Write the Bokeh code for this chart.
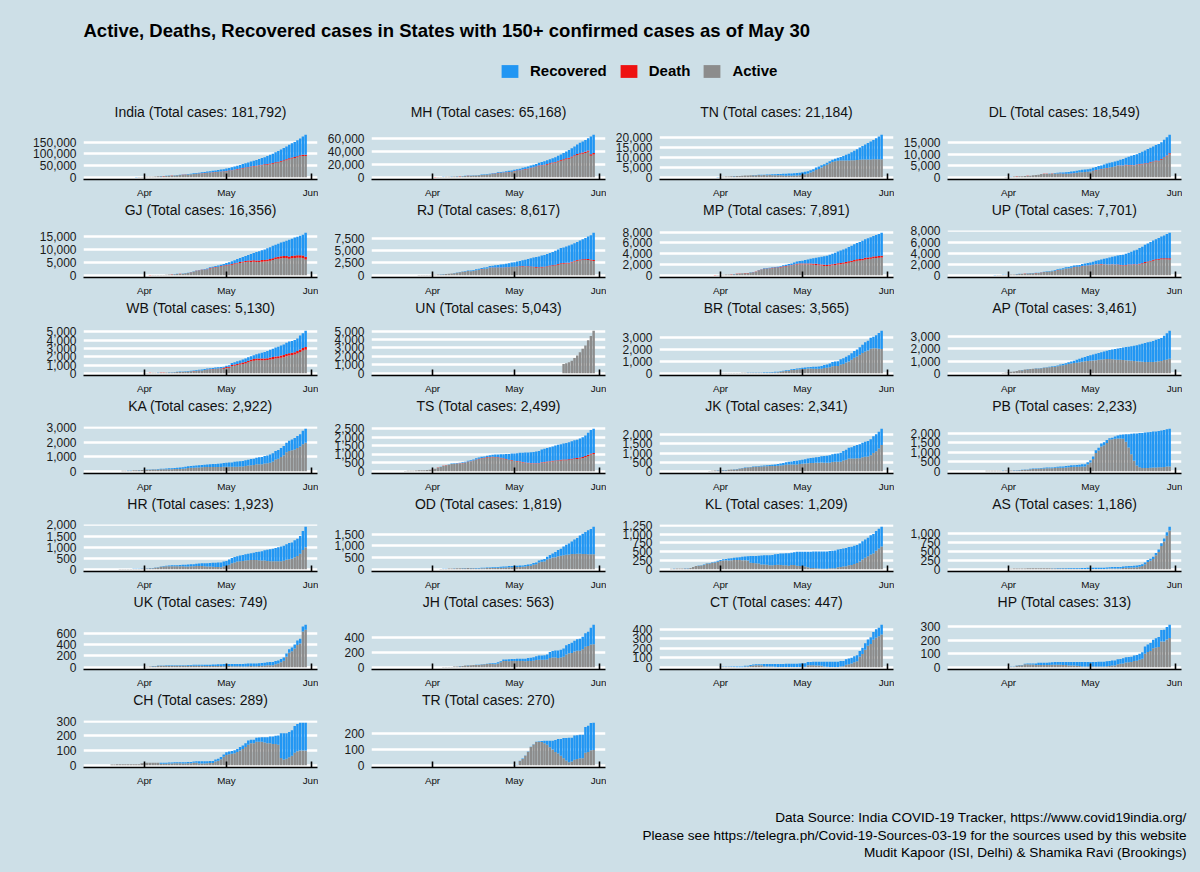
import numpy as np
import pandas as pd
from bokeh.plotting import figure
from bokeh.layouts import column, row
from bokeh.models import (Range1d, FixedTicker, NumeralTickFormatter, DatetimeTickFormatter,
                          Legend, LegendItem, Label, Spacer, ColumnDataSource)
from bokeh.embed import file_html
from bokeh.resources import INLINE

BG = "#cddfe7"
C_REC = "#2196f3"
C_DEATH = "#ee1111"
C_ACT = "#8c8c8c"
FONT = "Liberation Sans"

FIRST_DAY = "2020-03-14"
LAST_DAY = "2020-05-30"
MONTH_TICKS = ["2020-04-01", "2020-05-01", "2020-06-01"]
TITLE = "Active, Deaths, Recovered cases in States with 150+ confirmed cases as of May 30"
SERIES_LABELS = ["Recovered", "Death", "Active"]
CAPTION = ["Data Source: India COVID-19 Tracker, https://www.covid19india.org/",
           "Please see https://telegra.ph/Covid-19-Sources-03-19 for the sources used by this website",
           "Mudit Kapoor (ISI, Delhi) & Shamika Ravi (Brookings)"]

# Every list below holds daily values that END on May 30 (cumulative counts).
IN_TOTAL = [102, 112, 126, 146, 171, 198, 256, 334, 403, 499, 536, 657, 727, 887, 987, 1024, 1251, 1397,
            1998, 2543, 2567, 3082, 3588, 4778, 5311, 5916, 6725, 7598,
            8446, 9205, 10453, 11487, 12322, 13430, 14352, 15722, 17615, 18539,
            20080, 21370, 23077, 24530, 26283, 27890, 29451, 31324, 33062, 34863,
            37257, 39699, 42505, 46437, 49400, 52987, 56351, 59695, 62808, 67161,
            70768, 74292, 78055, 81997, 85784, 90648, 95698, 100328, 106475, 112028,
            118226, 124794, 131423, 138536, 144950, 150793, 158086, 165386, 173491, 181792]
IN_ACTIVE = [90, 97, 110, 129, 153, 174, 228, 306, 373, 455, 486, 602, 645, 792, 878, 902, 1119, 1239,
             1790, 2301, 2291, 2752, 3194, 4298, 4731, 5236, 5935, 6698,
             7376, 7905, 9053, 9787, 10412, 11230, 11842, 12732, 14195, 14679,
             15480, 16310, 17357, 18540, 19538, 20650, 21481, 22564, 23542, 24623,
             26017, 27569, 29335, 31967, 33530, 35867, 37661, 39825, 41338, 44021,
             45978, 47492, 49285, 51367, 52764, 53558, 55838, 57988, 60875, 63278,
             66086, 69244, 73113, 76796, 80080, 82173, 85806, 89576, 90721, 90607]
IN_DEATH = [2, 2, 2, 3, 3, 4, 5, 5, 7, 9, 10, 12, 16, 20, 24, 27, 32, 38,
            58, 72, 86, 100, 124, 150, 170, 200, 240, 250,
            290, 330, 360, 400, 420, 450, 490, 530, 560, 590,
            640, 690, 720, 780, 825, 880, 940, 1010, 1080, 1150,
            1220, 1320, 1390, 1570, 1690, 1790, 1890, 1990, 2110, 2210,
            2300, 2420, 2550, 2650, 2760, 2870, 3030, 3170, 3300, 3450,
            3590, 3720, 3870, 4020, 4170, 4340, 4530, 4710, 4970, 5185]

MH_TOTAL = [14, 32, 39, 41, 45, 48, 52, 64, 74, 97, 107, 122, 130, 153, 186, 203, 220, 302,
            335, 423, 490, 635, 748, 868, 1018, 1135, 1364, 1574,
            1761, 1982, 2334, 2684, 2916, 3202, 3323, 3648, 4200, 4666,
            5218, 5652, 6430, 6817, 7628, 8068, 8590, 9318, 9915, 10498,
            11506, 12296, 12974, 14541, 15525, 16758, 17974, 19063, 20228, 22171,
            23401, 24427, 25922, 27524, 29100, 30706, 33053, 35058, 37136, 39297,
            41642, 44582, 47190, 50231, 52667, 54758, 56948, 59546, 62228, 65168]
MH_ACTIVE = [14, 32, 39, 41, 45, 48, 52, 63, 72, 95, 104, 117, 124, 145, 174, 189, 199, 269,
             279, 361, 414, 551, 647, 750, 875, 946, 1142, 1276,
             1426, 1616, 1945, 2247, 2434, 2708, 2791, 3072, 3470, 3862,
             4245, 4594, 5307, 5559, 6229, 6538, 6939, 7530, 7890, 8266,
             9142, 9775, 10311, 11493, 12089, 13013, 13979, 14862, 15649, 17140,
             17747, 18381, 19400, 20446, 21468, 22483, 24167, 25372, 26172, 27589,
             28462, 30482, 32209, 33996, 35186, 36012, 37133, 38948, 33133, 34890]
MH_DEATH = [0, 0, 0, 1, 1, 1, 1, 1, 2, 2, 3, 4, 4, 5, 6, 8, 10, 10,
            16, 20, 26, 32, 45, 52, 64, 72, 97, 110,
            127, 149, 160, 178, 187, 194, 201, 211, 223, 232,
            251, 269, 283, 301, 323, 342, 369, 400, 432, 459,
            485, 521, 548, 583, 617, 651, 694, 731, 779, 832,
            868, 921, 975, 1019, 1068, 1135, 1198, 1249, 1325, 1390,
            1454, 1517, 1577, 1635, 1695, 1792, 1897, 1982, 2098, 2197]

TN_TOTAL = [15, 18, 26, 35, 40, 50, 67, 124,
            234, 309, 411, 485, 571, 621, 690, 738, 834, 911,
            969, 1075, 1173, 1204, 1242, 1267, 1323, 1372, 1477, 1520,
            1596, 1629, 1683, 1755, 1821, 1885, 1937, 2058, 2162, 2323,
            2526, 2757, 3023, 3550, 4058, 4829, 5409, 6009, 6535, 7204,
            8002, 8718, 9227, 9674, 10108, 10585, 11224, 11760, 12448, 13191,
            13967, 14753, 15512, 16277, 17082, 17728, 18545, 19372, 20246, 21184]
TN_ACTIVE = [14, 17, 24, 33, 38, 48, 65, 118,
             228, 303, 404, 477, 563, 610, 675, 720, 810, 870,
             920, 1010, 1090, 1100, 1110, 1100, 1110, 1100, 1120, 1050,
             1050, 1000, 990, 960, 850, 880, 850, 880, 900, 1050,
             1300, 1600, 1900, 2400, 2900, 3600, 4200, 4900, 5600, 6300,
             7000, 7600, 8000, 8200, 8300, 8400, 8300, 8400, 8500, 8500,
             8600, 8700, 8800, 8800, 8900, 8900, 9000, 9000, 9000, 9000]

DL_TOTAL = [17, 27, 29, 30, 31, 35, 36, 39, 40, 72, 97, 120,
            152, 219, 386, 445, 503, 523, 576, 669, 720, 903,
            1069, 1154, 1510, 1561, 1578, 1640, 1707, 1893, 2003, 2081,
            2156, 2248, 2376, 2514, 2625, 2918, 3108, 3314, 3439, 3515,
            3738, 4122, 4549, 4898, 5104, 5532, 5980, 6318, 6542, 6923,
            7233, 7639, 7998, 8470, 8895, 9333, 9755, 10054, 10554, 11088,
            11659, 12319, 12910, 13418, 14053, 14465, 15257, 16281, 17386, 18549]
DL_ACTIVE = [16, 26, 27, 28, 28, 30, 31, 34, 34, 66, 90, 112,
             144, 207, 372, 429, 478, 496, 547, 638, 685, 864,
             1023, 1103, 1452, 1501, 1514, 1564, 1593, 1643, 1668, 1603,
             1498, 1476, 1518, 1604, 1702, 1987, 2177, 2182, 2291, 2362,
             2510, 2802, 3123, 3403, 3572, 3925, 3983, 4230, 4449, 4781,
             5031, 5041, 5034, 5310, 5254, 5278, 5122, 5409, 5636, 5702,
             5898, 5897, 6412, 6617, 7006, 6954, 7690, 8470, 9142, 10058]
DL_DEATH = [1, 1, 1, 1, 1, 1, 1, 1, 2, 2, 2, 2,
            2, 4, 6, 6, 7, 8, 9, 10, 12, 14,
            19, 24, 28, 30, 32, 38, 42, 43, 45, 47,
            47, 48, 50, 53, 54, 54, 54, 54, 56, 59,
            61, 64, 64, 64, 64, 65, 66, 68, 73, 73,
            73, 86, 106, 115, 123, 129, 148, 160, 168, 194,
            194, 208, 231, 261, 276, 288, 303, 316, 398, 416]

GJ_TOTAL = [7, 13, 18, 29, 33, 38, 43, 47, 55, 58, 69, 74,
            82, 87, 95, 105, 144, 146, 175, 186, 241, 378,
            432, 516, 572, 650, 695, 871, 1021, 1272, 1604, 1851,
            2066, 2272, 2407, 2624, 3071, 3301, 3548, 3774, 4082, 4395,
            4721, 5054, 5428, 5804, 6245, 6625, 7013, 7402, 7796, 8194,
            8542, 8903, 9267, 9592, 9932, 10382, 10766, 11379, 11746, 12140,
            12539, 12910, 13268, 13664, 14063, 14468, 14829, 15205, 15572, 16356]
GJ_ACTIVE = [7, 12, 17, 28, 31, 35, 40, 43, 51, 53, 60, 63,
             75, 79, 86, 94, 129, 129, 149, 153, 200, 328,
             373, 450, 499, 563, 601, 771, 905, 1136, 1452, 1678,
             1856, 2038, 2125, 2254, 2662, 2855, 3003, 3178, 3374, 3568,
             3750, 3896, 4096, 4290, 4496, 4729, 4879, 5081, 5233, 5156,
             5249, 5120, 5139, 5253, 5291, 5449, 5608, 5881, 6223, 6348,
             6547, 6620, 6559, 6394, 6539, 6653, 6752, 6696, 6638, 6119]
GJ_DEATH = [0, 1, 1, 1, 2, 3, 3, 4, 4, 5, 6, 6,
            6, 7, 8, 10, 12, 12, 14, 16, 16, 17,
            19, 22, 26, 28, 30, 36, 42, 48, 58, 67,
            79, 90, 103, 112, 127, 133, 151, 162, 181, 214,
            236, 262, 290, 319, 368, 396, 425, 449, 472, 493,
            513, 537, 566, 586, 606, 625, 659, 694, 719, 749,
            773, 802, 829, 858, 888, 915, 938, 960, 980, 1007]

RJ_TOTAL = [17, 23, 28, 33, 36, 38, 41, 54, 55, 59, 74, 93,
            108, 133, 167, 210, 253, 288, 343, 381, 463, 561,
            700, 804, 873, 969, 1005, 1101, 1229, 1351, 1478, 1576,
            1659, 1890, 1964, 2034, 2083, 2185, 2262, 2364, 2438, 2584,
            2666, 2772, 2886, 3061, 3158, 3317, 3427, 3579, 3708, 3814,
            3988, 4126, 4328, 4534, 4727, 4960, 5202, 5507, 5629, 5845,
            6015, 6227, 6494, 6742, 7028, 7300, 7536, 7816, 8067, 8617]
RJ_ACTIVE = [14, 20, 25, 30, 33, 35, 38, 50, 51, 55, 70, 88,
             100, 123, 155, 196, 229, 264, 317, 352, 425, 510,
             640, 730, 780, 860, 850, 920, 1020, 1120, 1240, 1320,
             1380, 1560, 1560, 1560, 1530, 1560, 1560, 1580, 1600, 1680,
             1700, 1730, 1750, 1800, 1770, 1740, 1700, 1640, 1560, 1540,
             1600, 1620, 1720, 1850, 1900, 2000, 2150, 2300, 2350, 2380,
             2400, 2600, 2800, 2950, 3050, 3100, 3150, 3100, 3000, 2900]
RJ_DEATH = [0, 0, 0, 0, 0, 0, 0, 0, 0, 0, 0, 0,
            1, 1, 1, 1, 1, 2, 3, 3, 3, 3,
            3, 3, 3, 3, 3, 5, 11, 19, 21, 25,
            25, 27, 27, 27, 31, 33, 46, 48, 51, 58,
            62, 65, 71, 77, 82, 89, 97, 100, 103, 107,
            113, 117, 121, 125, 128, 131, 135, 138, 140, 143,
            147, 151, 153, 163, 167, 170, 173, 180, 184, 193]

MP_TOTAL = [4, 4, 6, 7, 14, 20, 30, 39, 39, 47, 66,
            86, 99, 154, 165, 193, 229, 290, 329, 411, 435,
            451, 564, 604, 730, 987, 1120, 1299, 1355, 1407, 1485,
            1552, 1587, 1695, 1846, 1945, 2096, 2168, 2387, 2561, 2660,
            2719, 2846, 2942, 3049, 3138, 3252, 3341, 3457, 3540, 3614,
            3785, 3986, 4173, 4426, 4595, 4790, 4977, 5236, 5465, 5735,
            5981, 6170, 6371, 6665, 6859, 7024, 7261, 7453, 7645, 7891]
MP_ACTIVE = [4, 4, 6, 7, 14, 18, 28, 37, 37, 44, 60,
             80, 93, 146, 155, 180, 212, 270, 305, 380, 400,
             410, 510, 545, 660, 900, 1020, 1180, 1220, 1250, 1310,
             1350, 1380, 1470, 1580, 1640, 1730, 1760, 1900, 2000, 2040,
             2030, 2050, 2030, 2010, 1950, 1930, 1870, 1800, 1750, 1720,
             1780, 1850, 1900, 2020, 2050, 2130, 2200, 2350, 2450, 2580,
             2700, 2750, 2800, 2950, 3000, 3050, 3150, 3200, 3250, 3280]
MP_DEATH = [0, 0, 0, 0, 0, 1, 1, 2, 2, 3, 5,
            6, 6, 6, 8, 9, 13, 17, 20, 25, 28,
            30, 36, 45, 50, 53, 57, 64, 70, 72, 76,
            80, 80, 83, 88, 99, 103, 110, 120, 130, 137,
            145, 151, 156, 165, 185, 193, 200, 205, 210, 215,
            221, 225, 232, 237, 239, 243, 248, 252, 258, 265,
            272, 281, 290, 300, 306, 313, 321, 334, 338, 343]

UP_TOTAL = [23, 24, 27, 31, 33, 38, 41, 44, 55, 72, 96, 103,
            113, 172, 174, 227, 278, 305, 343, 361, 410, 433,
            452, 483, 558, 660, 735, 805, 846, 969, 1084, 1184,
            1294, 1449, 1510, 1621, 1778, 1843, 1873, 2053, 2134, 2211,
            2328, 2455, 2645, 2742, 2880, 2998, 3071, 3214, 3373, 3467,
            3573, 3664, 3729, 3902, 4057, 4258, 4464, 4605, 4926, 5175,
            5515, 5735, 6017, 6268, 6497, 6724, 6991, 7170, 7445, 7701]
UP_ACTIVE = [14, 15, 18, 22, 22, 27, 30, 33, 44, 59, 80, 86,
             95, 152, 152, 203, 251, 275, 311, 330, 375, 390,
             400, 430, 490, 585, 650, 700, 740, 840, 930, 1010,
             1090, 1230, 1270, 1350, 1480, 1520, 1520, 1640, 1680, 1720,
             1780, 1850, 1950, 1950, 1970, 1960, 1900, 1900, 1950, 1900,
             1860, 1800, 1750, 1800, 1850, 1850, 1900, 1850, 1950, 2050,
             2250, 2350, 2500, 2650, 2750, 2800, 2900, 2900, 2900, 2850]
UP_DEATH = [0, 0, 0, 0, 0, 0, 0, 0, 0, 0, 0, 0,
            2, 2, 2, 2, 3, 3, 3, 4, 4, 5,
            5, 5, 6, 8, 11, 13, 14, 14, 17, 18,
            20, 21, 24, 25, 27, 29, 31, 32, 39, 40,
            43, 45, 46, 50, 56, 60, 62, 66, 68, 74,
            80, 82, 83, 88, 95, 104, 112, 118, 123, 127,
            138, 144, 155, 161, 169, 176, 182, 185, 198, 213]

WB_TOTAL = [4, 7, 9, 9, 10, 15, 17, 19, 22, 27,
            37, 53, 63, 69, 80, 91, 99, 103, 116, 126,
            134, 152, 190, 213, 231, 255, 287, 310, 339, 392,
            423, 456, 514, 571, 611, 649, 697, 725, 758, 795,
            922, 963, 1259, 1344, 1456, 1548, 1678, 1786, 1939, 2063,
            2173, 2290, 2377, 2461, 2576, 2677, 2825, 2961, 3103, 3197,
            3332, 3459, 3667, 3816, 3900, 4009, 4192, 4536, 4813, 5130]
WB_ACTIVE = [3, 6, 8, 8, 8, 13, 15, 16, 19, 23,
             33, 46, 55, 60, 70, 80, 85, 87, 95, 100,
             110, 120, 150, 170, 180, 200, 220, 240, 260, 300,
             320, 340, 390, 440, 470, 500, 530, 550, 570, 560,
             650, 670, 880, 920, 990, 1050, 1130, 1180, 1340, 1460,
             1520, 1580, 1580, 1560, 1560, 1590, 1660, 1700, 1770, 1800,
             1870, 1930, 2050, 2150, 2200, 2250, 2380, 2580, 2750, 2850]
WB_DEATH = [1, 1, 1, 1, 1, 1, 1, 1, 2, 3,
            3, 4, 5, 5, 5, 5, 5, 5, 5, 5,
            5, 7, 7, 7, 7, 7, 10, 12, 12, 12,
            15, 15, 15, 18, 18, 20, 20, 22, 33, 105,
            113, 118, 133, 140, 144, 151, 160, 171, 178, 185,
            190, 200, 207, 215, 225, 232, 244, 250, 253, 259,
            265, 269, 272, 278, 283, 289, 293, 295, 302, 309]

UN_TOTAL = [1100, 1200, 1300, 1500, 1800, 2100, 2500, 2900, 3300, 3900, 4400, 5043]
UN_ACTIVE = [1100, 1200, 1300, 1500, 1800, 2100, 2500, 2900, 3300, 3900, 4400, 5043]

BR_TOTAL = [23, 29, 30, 32, 32, 32, 38, 39, 51, 60,
            64, 64, 65, 66, 70, 80, 83, 86, 96, 113,
            126, 143, 170, 223, 251, 274, 346, 366, 403, 425,
            466, 481, 517, 528, 542, 550, 579, 611, 696, 747,
            831, 938, 987, 1018, 1178, 1262, 1391, 1519, 1674, 1872,
            1982, 2177, 2392, 2587, 2730, 2968, 3061, 3185, 3376, 3565]
BR_ACTIVE = [22, 28, 29, 31, 31, 31, 36, 37, 50, 55,
             58, 58, 55, 45, 44, 50, 50, 50, 55, 70,
             80, 100, 125, 175, 200, 220, 290, 290, 325, 340,
             360, 370, 400, 400, 380, 380, 380, 390, 440, 460,
             520, 600, 620, 620, 740, 790, 900, 1000, 1130, 1310,
             1400, 1550, 1700, 1820, 1900, 2050, 2100, 2100, 2050, 2040]

AP_TOTAL = [19, 23, 44,
            87, 132, 161, 192, 252, 266, 314, 348, 363, 381,
            405, 420, 432, 473, 502, 534, 572, 603, 647, 722,
            757, 813, 893, 955, 1016, 1097, 1177, 1259, 1332, 1403,
            1463, 1525, 1583, 1650, 1717, 1777, 1833, 1887, 1930, 1980,
            2018, 2051, 2090, 2137, 2157, 2205, 2230, 2282, 2339, 2407,
            2452, 2514, 2561, 2627, 2719, 2787, 2874, 3042, 3251, 3461]
AP_ACTIVE = [18, 22, 43,
             86, 130, 159, 190, 248, 260, 306, 337, 351, 369,
             390, 402, 412, 447, 476, 500, 530, 545, 580, 630,
             655, 700, 750, 790, 830, 860, 900, 950, 990, 1010,
             1030, 1050, 1070, 1100, 1130, 1150, 1160, 1160, 1150, 1130,
             1110, 1100, 1080, 1070, 1050, 1030, 1000, 990, 970, 950,
             930, 920, 920, 930, 950, 980, 1000, 1080, 1130, 1180]

KA_TOTAL = [37, 41, 51, 55, 74, 83, 88, 101,
            110, 124, 128, 144, 151, 163, 175, 181, 197, 207,
            214, 232, 247, 258, 279, 315, 353, 371, 390, 408,
            418, 427, 445, 474, 489, 503, 512, 523, 535, 565,
            589, 606, 614, 651, 673, 693, 705, 753, 794, 848,
            862, 925, 959, 987, 1056, 1092, 1147, 1246, 1397, 1462,
            1605, 1743, 1959, 2089, 2182, 2283, 2418, 2533, 2781, 2922]
KA_ACTIVE = [35, 38, 47, 50, 68, 76, 80, 92,
             100, 110, 112, 123, 126, 135, 140, 140, 150, 150,
             150, 160, 165, 165, 180, 200, 230, 240, 250, 270,
             270, 280, 290, 290, 290, 290, 290, 290, 290, 310,
             320, 320, 310, 320, 320, 330, 330, 370, 400, 420,
             430, 480, 480, 480, 530, 560, 590, 670, 810, 860,
             980, 1100, 1300, 1400, 1450, 1500, 1600, 1700, 1850, 1950]

TS_TOTAL = [22, 32, 36, 41, 45, 59, 67, 70, 77, 97,
            107, 158, 229, 269, 334, 364, 404, 453, 473, 487,
            503, 531, 562, 624, 650, 700, 766, 809, 858, 872,
            919, 943, 970, 983, 990, 1001, 1004, 1009, 1016, 1038,
            1044, 1061, 1082, 1085, 1096, 1107, 1122, 1132, 1163, 1196,
            1275, 1326, 1367, 1414, 1454, 1509, 1551, 1592, 1634, 1661,
            1699, 1761, 1813, 1854, 1920, 1991, 2098, 2256, 2425, 2499]
TS_ACTIVE = [21, 31, 35, 40, 44, 58, 66, 69, 75, 95,
             100, 150, 215, 255, 315, 345, 380, 425, 440, 450,
             460, 480, 505, 560, 580, 620, 680, 715, 760, 770,
             810, 820, 830, 820, 800, 770, 740, 700, 660, 630,
             600, 580, 560, 520, 490, 470, 450, 440, 440, 450,
             500, 520, 540, 560, 580, 600, 620, 640, 650, 650,
             660, 690, 720, 730, 750, 780, 830, 900, 980, 1010]
TS_DEATH = [0, 0, 0, 0, 0, 0, 1, 1, 1, 3,
            3, 4, 6, 7, 9, 11, 11, 12, 12, 12,
            14, 16, 16, 18, 18, 18, 18, 21, 21, 23,
            23, 24, 25, 26, 26, 25, 25, 25, 26, 28,
            28, 29, 29, 29, 29, 29, 29, 30, 30, 30,
            30, 31, 34, 34, 34, 34, 34, 34, 40, 40,
            45, 49, 53, 56, 59, 63, 67, 67, 71, 71]

JK_TOTAL = [4, 7, 11, 13, 20, 31, 48, 55,
            62, 70, 75, 92, 106, 109, 125, 158, 184, 207,
            224, 245, 270, 278, 300, 314, 328, 341, 350, 368,
            380, 407, 427, 454, 494, 523, 546, 565, 581, 614,
            639, 666, 701, 726, 741, 775, 793, 823, 836, 861,
            879, 934, 971, 983, 1013, 1121, 1183, 1289, 1317, 1390,
            1449, 1489, 1569, 1621, 1668, 1759, 1921, 2036, 2164, 2341]
JK_ACTIVE = [4, 6, 10, 11, 18, 28, 45, 50,
             57, 63, 67, 84, 97, 100, 114, 146, 170, 190,
             205, 225, 245, 250, 265, 270, 280, 285, 290, 300,
             300, 310, 320, 340, 360, 370, 380, 380, 380, 400,
             420, 430, 450, 460, 460, 470, 470, 480, 470, 470,
             470, 510, 530, 520, 520, 600, 630, 700, 700, 700,
             720, 720, 780, 800, 820, 880, 1010, 1100, 1250, 1450]

PB_TOTAL = [29, 33, 33, 38, 38, 38, 41, 46,
            46, 47, 53, 57, 68, 79, 91, 101, 131, 151,
            151, 167, 176, 186, 197, 202, 208, 219, 245, 251,
            256, 277, 298, 313, 322, 330, 342, 375, 375, 480,
            585, 772, 1102, 1232, 1451, 1526, 1644, 1731, 1762, 1823,
            1877, 1914, 1924, 1935, 1946, 1964, 1980, 1980, 2002, 2005,
            2028, 2045, 2060, 2081, 2081, 2106, 2139, 2158, 2197, 2233]
PB_ACTIVE = [28, 32, 32, 36, 36, 35, 38, 42,
             41, 42, 47, 50, 60, 70, 80, 86, 113, 130,
             125, 138, 145, 150, 160, 165, 165, 172, 190, 190,
             190, 205, 220, 230, 235, 235, 235, 260, 260, 360,
             460, 640, 965, 1085, 1300, 1370, 1480, 1650, 1680, 1700,
             1720, 1720, 1700, 1550, 1250, 900, 550, 300, 220, 180,
             180, 180, 190, 200, 200, 210, 220, 230, 250, 250]

HR_TOTAL = [7, 12, 14, 14, 19, 21, 22, 22, 22, 36,
            43, 49, 56, 59, 84, 90, 131, 147, 166, 169,
            181, 185, 190, 199, 205, 209, 215, 225, 233, 254,
            262, 270, 272, 275, 289, 296, 299, 308, 311, 357,
            376, 442, 517, 551, 594, 626, 647, 675, 703, 730,
            751, 780, 793, 818, 862, 887, 910, 928, 964, 993,
            1031, 1067, 1131, 1184, 1213, 1305, 1381, 1504, 1721, 1923]
HR_ACTIVE = [7, 12, 14, 13, 16, 17, 18, 18, 18, 30,
             37, 42, 48, 50, 74, 80, 115, 128, 140, 140,
             140, 140, 140, 140, 140, 130, 130, 135, 135, 150,
             150, 150, 140, 130, 130, 120, 110, 110, 100, 140,
             150, 210, 280, 310, 350, 370, 380, 400, 410, 420,
             420, 420, 410, 400, 400, 380, 370, 360, 360, 360,
             370, 390, 430, 460, 480, 540, 600, 700, 870, 1000]

OD_TOTAL = [4, 5, 5, 20, 21, 21, 42, 42, 44, 48,
            50, 54, 54, 60, 60, 60, 61, 61, 68, 74,
            79, 83, 89, 94, 103, 108, 118, 125, 142, 143,
            149, 157, 163, 169, 185, 205, 219, 271, 294, 377,
            414, 437, 538, 611, 672, 737, 828, 876, 978, 1052,
            1103, 1189, 1269, 1336, 1438, 1517, 1593, 1660, 1723, 1819]
OD_ACTIVE = [3, 4, 4, 18, 19, 19, 40, 40, 42, 45,
             46, 50, 50, 54, 52, 43, 40, 38, 44, 50,
             54, 55, 58, 60, 65, 65, 70, 75, 90, 90,
             95, 100, 105, 110, 125, 140, 150, 195, 215, 290,
             320, 330, 420, 460, 500, 520, 560, 580, 600, 620,
             630, 650, 650, 660, 660, 650, 650, 640, 640, 640]

KL_TOTAL = [19, 22, 24, 27, 27, 28, 28, 40, 67, 95, 109, 118, 137, 176, 182, 202, 215, 241,
            265, 286, 295, 306, 314, 327, 336, 345, 357, 364,
            373, 375, 378, 379, 387, 395, 396, 400, 402, 408,
            427, 438, 448, 451, 457, 458, 471, 485, 495, 497,
            497, 499, 499, 500, 502, 503, 503, 503, 505, 505,
            519, 524, 534, 560, 576, 587, 601, 630, 642, 666,
            690, 732, 794, 847, 896, 963, 1003, 1088, 1150, 1209]
KL_ACTIVE = [16, 19, 21, 24, 24, 25, 25, 37, 64, 92, 105, 112, 126, 165, 167, 186, 196, 216,
             237, 254, 258, 254, 256, 266, 263, 263, 260, 255,
             250, 190, 178, 170, 167, 140, 138, 130, 114, 114,
             127, 129, 127, 118, 116, 102, 123, 123, 102, 96,
             95, 80, 60, 40, 37, 30, 25, 16, 17, 16,
             30, 32, 34, 60, 70, 80, 90, 115, 125, 150,
             180, 220, 280, 330, 370, 420, 450, 530, 590, 650]

AS_TOTAL = [1, 16, 24, 26, 26, 26, 27, 28, 28, 29,
            29, 29, 31, 31, 32, 32, 33, 34, 35, 35,
            35, 35, 35, 36, 36, 36, 36, 38, 38, 43,
            43, 43, 43, 43, 43, 45, 53, 59, 63, 63,
            65, 65, 80, 87, 90, 92, 101, 107, 121, 142,
            189, 259, 295, 350, 457, 549, 722, 856, 1028, 1186]
AS_ACTIVE = [1, 16, 24, 26, 26, 26, 27, 28, 28, 28,
             28, 28, 28, 28, 28, 28, 27, 26, 25, 25,
             21, 21, 18, 17, 15, 15, 14, 10, 9, 11,
             11, 10, 9, 8, 8, 10, 18, 23, 27, 25,
             26, 26, 39, 45, 48, 50, 55, 60, 72, 93,
             140, 205, 240, 290, 390, 480, 650, 770, 930, 1080]

UK_TOTAL = [7, 10, 16, 22, 22, 31, 33, 33, 35, 35,
            35, 35, 35, 37, 37, 37, 40, 42, 44, 46,
            46, 46, 46, 47, 48, 50, 51, 54, 55, 57,
            57, 59, 59, 60, 60, 61, 61, 63, 67, 68,
            68, 69, 72, 78, 82, 88, 92, 93, 111, 122,
            146, 173, 244, 317, 349, 400, 469, 500, 716, 749]
UK_ACTIVE = [7, 10, 16, 20, 20, 27, 28, 28, 28, 28,
             28, 28, 28, 27, 27, 27, 28, 29, 29, 28,
             27, 27, 23, 23, 23, 22, 22, 23, 24, 21,
             20, 22, 19, 20, 18, 19, 16, 17, 21, 22,
             21, 21, 23, 28, 30, 35, 38, 38, 55, 66,
             88, 115, 184, 254, 283, 330, 390, 420, 630, 660]

JH_TOTAL = [1, 2, 2, 3, 4, 4, 4, 4, 13, 13,
            17, 19, 24, 27, 29, 31, 33, 34, 41, 45,
            49, 53, 53, 55, 67, 82, 103, 105, 107, 110,
            111, 113, 115, 115, 115, 125, 127, 132, 145, 156,
            157, 160, 170, 203, 217, 223, 223, 231, 249, 290,
            308, 323, 350, 370, 377, 405, 448, 469, 521, 563]
JH_ACTIVE = [1, 2, 2, 3, 4, 4, 4, 4, 12, 12,
             16, 18, 23, 26, 28, 30, 32, 32, 38, 41,
             45, 48, 44, 42, 52, 66, 85, 83, 82, 84,
             84, 84, 84, 84, 80, 85, 85, 86, 96, 100,
             100, 100, 105, 125, 130, 130, 125, 130, 140, 170,
             185, 190, 210, 220, 220, 240, 270, 280, 300, 305]

CT_TOTAL = [9, 9, 9, 10, 10, 10, 10, 10, 10, 18,
            18, 25, 31, 33, 33, 33, 36, 36, 36, 36,
            36, 36, 36, 36, 37, 37, 37, 38, 38, 40,
            43, 43, 57, 57, 58, 59, 59, 59, 59, 59,
            59, 59, 59, 59, 66, 67, 86, 92, 101, 115,
            128, 172, 205, 252, 291, 315, 369, 399, 415, 447]
CT_ACTIVE = [7, 6, 6, 6, 5, 5, 1, 1, 1, 9,
             9, 15, 20, 22, 21, 21, 11, 10, 9, 8,
             6, 3, 3, 3, 4, 4, 4, 5, 5, 4,
             7, 7, 21, 21, 21, 20, 19, 17, 10, 6,
             5, 5, 4, 4, 10, 11, 28, 33, 40, 54,
             65, 110, 140, 185, 225, 245, 290, 310, 325, 345]

HP_TOTAL = [3, 6, 6, 13, 18, 18, 27, 28, 28, 28,
            28, 33, 33, 33, 33, 35, 38, 39, 39, 39,
            39, 40, 40, 40, 40, 40, 40, 40, 40, 40,
            40, 40, 40, 41, 41, 42, 45, 46, 50, 50,
            59, 62, 66, 74, 76, 78, 86, 90, 100, 110,
            152, 168, 179, 203, 214, 223, 273, 276, 295, 313]
HP_ACTIVE = [2, 5, 5, 11, 16, 16, 22, 23, 21, 21,
             18, 18, 18, 18, 18, 17, 19, 20, 20, 20,
             18, 17, 13, 13, 13, 11, 10, 7, 6, 6,
             6, 6, 6, 6, 6, 6, 9, 10, 14, 14,
             23, 26, 29, 36, 38, 40, 46, 48, 55, 63,
             100, 112, 120, 140, 146, 150, 190, 190, 205, 215]

CH_TOTAL = [1, 5, 6, 7, 7, 7, 7, 7, 8, 8, 8, 8, 15,
            16, 18, 18, 18, 18, 18, 18, 18, 18, 19,
            19, 21, 21, 21, 21, 21, 23, 23, 26, 27,
            27, 27, 27, 28, 30, 30, 40, 45, 56, 73,
            88, 94, 97, 102, 111, 124, 135, 150, 169, 174,
            174, 187, 189, 191, 191, 191, 196, 196, 200, 202,
            217, 218, 218, 225, 238, 266, 279, 289, 289, 289]
CH_ACTIVE = [1, 5, 6, 7, 7, 7, 7, 7, 8, 8, 8, 8, 15,
             16, 18, 18, 18, 18, 18, 11, 11, 11, 12,
             12, 14, 14, 14, 13, 12, 14, 14, 17, 18,
             13, 13, 13, 14, 16, 16, 26, 31, 42, 58,
             70, 75, 78, 82, 90, 100, 110, 125, 140, 150,
             150, 160, 160, 160, 155, 150, 150, 145, 145, 140,
             50, 40, 45, 55, 65, 85, 95, 100, 100, 100]

TR_TOTAL = [2, 4, 29, 43, 62, 88, 118, 134, 150, 152,
            154, 155, 155, 156, 156, 160, 167, 167, 173, 173,
            175, 175, 189, 191, 194, 194, 242, 251, 268, 270]
TR_ACTIVE = [0, 2, 27, 41, 60, 86, 116, 132, 148, 150,
             148, 140, 130, 115, 100, 85, 75, 60, 45, 30,
             20, 25, 35, 40, 45, 45, 80, 85, 95, 97]

# y-axis tick values of each panel (as labelled in the chart)
PANELS = [
    ("India", IN_TOTAL, IN_ACTIVE, IN_DEATH, [0, 50000, 100000, 150000]),
    ("MH", MH_TOTAL, MH_ACTIVE, MH_DEATH, [0, 20000, 40000, 60000]),
    ("TN", TN_TOTAL, TN_ACTIVE, None, [0, 5000, 10000, 15000, 20000]),
    ("DL", DL_TOTAL, DL_ACTIVE, DL_DEATH, [0, 5000, 10000, 15000]),
    ("GJ", GJ_TOTAL, GJ_ACTIVE, GJ_DEATH, [0, 5000, 10000, 15000]),
    ("RJ", RJ_TOTAL, RJ_ACTIVE, RJ_DEATH, [0, 2500, 5000, 7500]),
    ("MP", MP_TOTAL, MP_ACTIVE, MP_DEATH, [0, 2000, 4000, 6000, 8000]),
    ("UP", UP_TOTAL, UP_ACTIVE, UP_DEATH, [0, 2000, 4000, 6000, 8000]),
    ("WB", WB_TOTAL, WB_ACTIVE, WB_DEATH, [0, 1000, 2000, 3000, 4000, 5000]),
    ("UN", UN_TOTAL, UN_ACTIVE, None, [0, 1000, 2000, 3000, 4000, 5000]),
    ("BR", BR_TOTAL, BR_ACTIVE, None, [0, 1000, 2000, 3000]),
    ("AP", AP_TOTAL, AP_ACTIVE, None, [0, 1000, 2000, 3000]),
    ("KA", KA_TOTAL, KA_ACTIVE, None, [0, 1000, 2000, 3000]),
    ("TS", TS_TOTAL, TS_ACTIVE, TS_DEATH, [0, 500, 1000, 1500, 2000, 2500]),
    ("JK", JK_TOTAL, JK_ACTIVE, None, [0, 500, 1000, 1500, 2000]),
    ("PB", PB_TOTAL, PB_ACTIVE, None, [0, 500, 1000, 1500, 2000]),
    ("HR", HR_TOTAL, HR_ACTIVE, None, [0, 500, 1000, 1500, 2000]),
    ("OD", OD_TOTAL, OD_ACTIVE, None, [0, 500, 1000, 1500]),
    ("KL", KL_TOTAL, KL_ACTIVE, None, [0, 250, 500, 750, 1000, 1250]),
    ("AS", AS_TOTAL, AS_ACTIVE, None, [0, 250, 500, 750, 1000]),
    ("UK", UK_TOTAL, UK_ACTIVE, None, [0, 200, 400, 600]),
    ("JH", JH_TOTAL, JH_ACTIVE, None, [0, 200, 400]),
    ("CT", CT_TOTAL, CT_ACTIVE, None, [0, 100, 200, 300, 400]),
    ("HP", HP_TOTAL, HP_ACTIVE, None, [0, 100, 200, 300]),
    ("CH", CH_TOTAL, CH_ACTIVE, None, [0, 100, 200, 300]),
    ("TR", TR_TOTAL, TR_ACTIVE, None, [0, 100, 200]),
]

# ---- geometry (Bokeh's page template has no body margin) ----
PAGE_W = 1200
HEAD_H = 103
FOOT_H = 83
LEFT_PAD = 30
NCOL = 4
FRAME_W, FRAME_H = 234, 47
BORDER_L, BORDER_R, BORDER_T, BORDER_B = 53, 1, 8, 22
STRIP_H = 21
TITLE_GAP = 20.7   # px from frame top to strip-title centre
FIG_W = BORDER_L + FRAME_W + BORDER_R

DATES = pd.date_range(FIRST_DAY, LAST_DAY, freq="D")
DAY_MS = 86400000.0
BAR_W = 0.9 * DAY_MS
PAD_DAYS = 0.45 + 0.05 * (len(DATES) - 1 + 0.9)
X0 = (pd.Timestamp(FIRST_DAY).value / 1e6) - PAD_DAYS * DAY_MS
X1 = (pd.Timestamp(LAST_DAY).value / 1e6) + PAD_DAYS * DAY_MS
TICK_MS = [pd.Timestamp(t).value / 1e6 for t in MONTH_TICKS]


def on_calendar(vals):
    if vals is None:
        return np.zeros(len(DATES))
    s = pd.Series(vals, index=pd.date_range(end=LAST_DAY, periods=len(vals), freq="D"), dtype=float)
    return s.reindex(DATES, fill_value=0.0).to_numpy()


def blank_fig(w, h):
    f = figure(width=w, height=h, x_range=Range1d(0, w), y_range=Range1d(0, h),
               min_border=0, x_axis_location=None, y_axis_location=None,
               output_backend="svg", toolbar_location=None,
               background_fill_color=BG, border_fill_color=BG, outline_line_color=None)
    f.grid.visible = False
    return f


def make_panel(name, total, active, death, ticks):
    t = on_calendar(total)
    a = on_calendar(active)
    d = on_calendar(death)
    rec = np.clip(t - a - d, 0, None)
    ymax = float(t.max())
    src = ColumnDataSource(dict(date=DATES, active=a, death=d, recovered=rec))
    p = figure(frame_width=FRAME_W, frame_height=FRAME_H, x_axis_type="datetime",
               x_range=Range1d(X0, X1), y_range=Range1d(-0.05 * ymax, 1.05 * ymax),
               min_border_left=BORDER_L, min_border_right=BORDER_R,
               min_border_top=BORDER_T, min_border_bottom=BORDER_B,
               output_backend="svg", toolbar_location=None,
               background_fill_color=BG, border_fill_color=BG, outline_line_color=None)
    p.vbar_stack(["active", "death", "recovered"], x="date", width=BAR_W,
                 fill_color=[C_ACT, C_DEATH, C_REC], line_color=None, source=src)
    p.xgrid.visible = False
    p.ygrid.grid_line_color = "white"
    p.ygrid.grid_line_width = 2.6
    xa = p.xaxis[0]
    xa.ticker = FixedTicker(ticks=TICK_MS)
    xa.formatter = DatetimeTickFormatter(days="%b", months="%b", years="%b")
    xa.axis_line_color = "black"
    xa.axis_line_width = 1.3
    xa.major_tick_in = 6
    xa.major_tick_out = 0
    xa.minor_tick_in = 0
    xa.minor_tick_out = 0
    xa.major_tick_line_width = 1.6
    xa.major_tick_line_color = "black"
    xa.minor_tick_line_color = None
    xa.major_label_text_font = FONT
    xa.major_label_text_font_size = "9.8px"
    xa.major_label_text_color = "#111111"
    xa.major_label_standoff = 7
    ya = p.yaxis[0]
    ya.ticker = FixedTicker(ticks=ticks)
    ya.formatter = NumeralTickFormatter(format="0,0")
    ya.axis_line_color = None
    ya.major_tick_in = 0
    ya.major_tick_out = 0
    ya.minor_tick_in = 0
    ya.minor_tick_out = 0
    ya.major_tick_line_color = None
    ya.minor_tick_line_color = None
    ya.major_label_text_font = FONT
    ya.major_label_text_font_size = "12px"
    ya.major_label_text_color = "#1a1a1a"
    ya.major_label_standoff = 7
    return p


def make_strip(specs):
    s = blank_fig(PAGE_W, STRIP_H)
    for c, spec in enumerate(specs):
        name, total = spec[0], spec[1]
        s.add_layout(Label(x=LEFT_PAD + c * FIG_W + BORDER_L + FRAME_W / 2,
                           y=TITLE_GAP - BORDER_T,
                           text=f"{name} (Total cases: {int(total[-1]):,})",
                           text_font=FONT, text_font_size="14px", text_color="#111111",
                           text_align="center", text_baseline="middle"))
    return s


blocks = []
for i in range(0, len(PANELS), NCOL):
    specs = PANELS[i:i + NCOL]
    figs = [make_panel(*spec) for spec in specs]
    row_h = BORDER_T + FRAME_H + BORDER_B
    blocks.append(make_strip(specs))
    blocks.append(row(Spacer(width=LEFT_PAD, height=row_h), *figs,
                      Spacer(width=PAGE_W - LEFT_PAD - len(figs) * FIG_W, height=row_h)))

header = blank_fig(PAGE_W, HEAD_H)
header.add_layout(Label(x=83, y=HEAD_H - 30, text=TITLE, text_font=FONT, text_font_size="18.5px",
                        text_font_style="bold", text_color="black", text_baseline="middle"))
# legend proxies: one row of NaN so nothing is drawn in the plot area
proxy = ColumnDataSource(dict(x=[np.nan], top=[np.nan]))
r_rec = header.vbar(x="x", top="top", width=1, fill_color=C_REC, line_color=None, source=proxy)
r_death = header.vbar(x="x", top="top", width=1, fill_color=C_DEATH, line_color=None, source=proxy)
r_act = header.vbar(x="x", top="top", width=1, fill_color=C_ACT, line_color=None, source=proxy)
legend = Legend(items=[LegendItem(label=SERIES_LABELS[0], renderers=[r_rec]),
                       LegendItem(label=SERIES_LABELS[1], renderers=[r_death]),
                       LegendItem(label=SERIES_LABELS[2], renderers=[r_act])],
                orientation="horizontal", location=(499, HEAD_H - 71 - 8), glyph_width=21, glyph_height=16,
                label_height=16, label_standoff=10, spacing=11, padding=0, margin=0,
                label_text_font=FONT, label_text_font_size="15px", label_text_font_style="bold",
                label_text_color="black", label_text_baseline="middle",
                border_line_color=None, background_fill_alpha=0)
header.add_layout(legend)

footer = blank_fig(PAGE_W, FOOT_H)
for i, line in enumerate(CAPTION):
    footer.add_layout(Label(x=1186, y=FOOT_H - 28 - 17.5 * i, text=line, text_font=FONT,
                            text_font_size="13.6px", text_color="black",
                            text_align="right", text_baseline="middle"))

page = column(header, *blocks, footer, styles={"background-color": BG})

open("out.html", "w").write(file_html(page, INLINE))
